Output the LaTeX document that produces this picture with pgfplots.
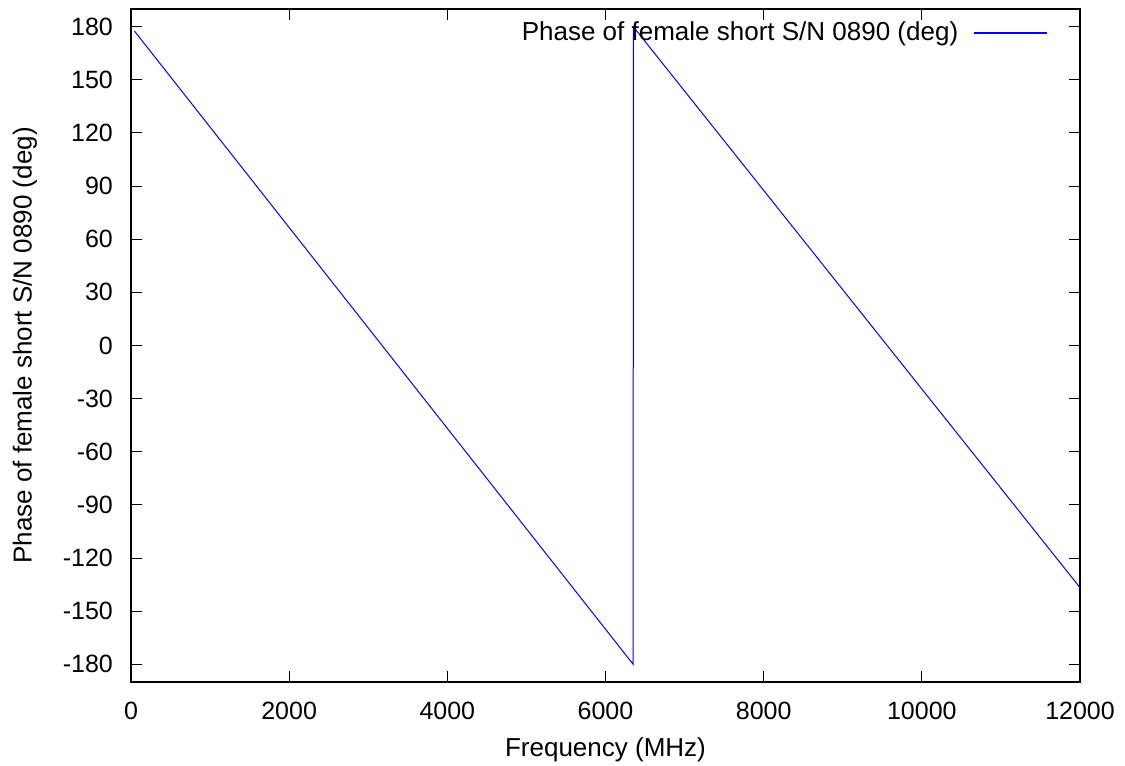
\documentclass[border=0pt]{standalone}
\usepackage{fontspec}
\setmainfont{Liberation Sans}
\usepackage{pgfplots}
\pgfplotsset{compat=1.18}

\begin{document}
\begin{tikzpicture}
\begin{axis}[
  scale only axis,
  width=474.5pt, height=336.5pt,
  xmin=0, xmax=12000,
  ymin=-190, ymax=190,
  xtick={0,2000,...,12000},
  ytick={-180,-150,...,180},
  scaled x ticks=false,
  /pgf/number format/.cd, 1000 sep={}, assume math mode=true, /pgfplots/.cd,
  tick align=inside,
  major tick length=5.5pt,
  tick style={black, line width=0.5pt},
  axis line style={line width=1pt},
  every tick label/.append style={font=\fontsize{12.5}{14}\selectfont},
  label style={font=\fontsize{13}{15}\selectfont},
  xticklabel style={yshift=-6.5pt},
  yticklabel style={xshift=-5.5pt},
  xlabel={Frequency (MHz)},
  ylabel={Phase of female short S/N 0890 (deg)},
  xlabel style={yshift=-2pt},
  ylabel style={yshift=6pt},
  legend style={draw=none, fill=none, at={(rel axis cs:0.966,0.9643)}, anchor=east,
    font=\fontsize{13}{15}\selectfont, inner sep=0pt},
  legend cell align=right,
  legend plot pos=right,
  legend image code/.code={\path (0pt,0pt); \draw[blue, line width=0.6pt, #1] (5.5pt,0pt) -- (42pt,0pt);},
]
\addplot[blue, line width=0.5pt] coordinates {
  (45,177.5) (6350,-180) (6352,180) (12000,-136.7)
};
\addlegendentry{Phase of female short S/N 0890 (deg)}
\coordinate (bl) at (rel axis cs:-0.138,-0.1233);
\coordinate (tr) at (rel axis cs:1.0474,1.01337);
\end{axis}
\pgfresetboundingbox
\path[use as bounding box] (bl) rectangle (tr);
\end{tikzpicture}
\end{document}
